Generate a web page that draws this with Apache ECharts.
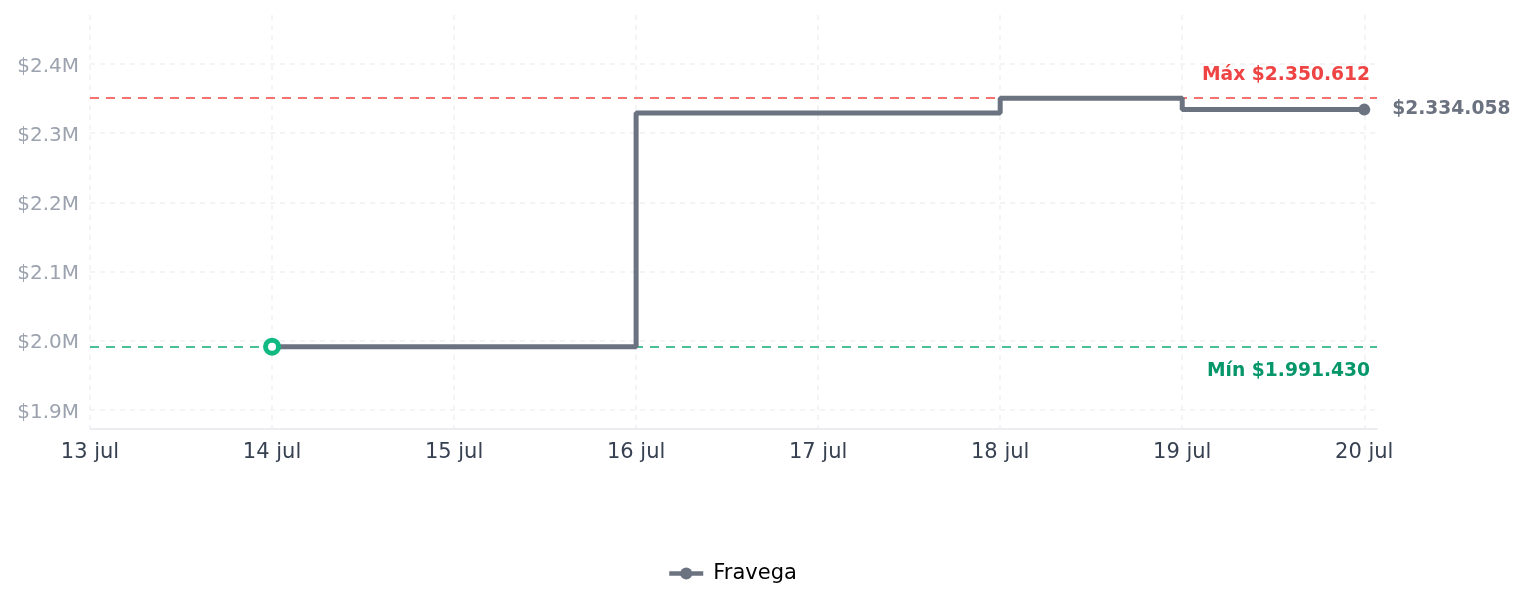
<!DOCTYPE html>
<html>
<head>
  <meta charset="utf-8">
  <title>Fravega</title>
  <script src="https://fastly.jsdelivr.net/npm/echarts@6/dist/echarts.min.js"></script>
</head>
<body style="margin:0">
<div id="chart-container" style="position: relative;width: 1524px;height: 607px; overflow: hidden;"></div>
<script type="text/javascript">
  // day labels, index = position on the x axis
  var dayLabels = ['13 jul', '14 jul', '15 jul', '16 jul', '17 jul', '18 jul', '19 jul', '20 jul'];
  var priceDays = [1, 2, 3, 4, 5, 6, 7];
  var prices = [1991430, 1991430, 2329000, 2329000, 2350612, 2334058, 2334058];
  var seriesName = 'Fravega';
  var maxPrice = 2350612;
  var minPrice = 1991430;

  var gray = '#6b7280';
  var green = '#10b981';

  function money(v) {
    return '$' + String(v).replace(/\B(?=(\d{3})+(?!\d))/g, '.');
  }

  var seriesData = prices.map(function (p, i) {
    var item = { value: [priceDays[i], p], symbolSize: 0 };
    if (i === 0) {
      item.symbolSize = 13;
      item.itemStyle = { color: '#fff', borderColor: green, borderWidth: 5 };
    } else if (i === prices.length - 1) {
      item.symbolSize = 12;
      item.label = {
        show: true,
        position: 'right',
        distance: 22,
        formatter: money(p),
        color: gray,
        fontWeight: 'bold',
        fontSize: 18.7,
        fontFamily: 'DejaVu Sans'
      };
    }
    return item;
  });

  var dom = document.getElementById('chart-container');
  var myChart = echarts.init(dom, null, { renderer: 'canvas' });

  var option = {
    animation: false,
    textStyle: { fontFamily: 'DejaVu Sans' },
    grid: { left: 90, right: 147, top: 15, bottom: 178 },
    legend: {
      bottom: 18,
      left: 662,
      itemWidth: 34,
      itemHeight: 15,
      lineStyle: { width: 4.5 },
      textStyle: { color: '#000', fontSize: 21, fontFamily: 'DejaVu Sans', padding: [0, 0, 0, 5] },
      data: [seriesName]
    },
    xAxis: {
      type: 'value',
      min: 0,
      max: 7.07,
      interval: 1,
      axisLine: { lineStyle: { color: '#e5e7eb', width: 1.5 } },
      axisTick: { show: false },
      axisLabel: {
        color: '#374151',
        fontSize: 21,
        margin: 13,
        showMaxLabel: false,
        formatter: function (v) {
          return Number.isInteger(v) ? dayLabels[v] : '';
        }
      },
      splitLine: {
        show: true,
        showMaxLine: false,
        lineStyle: { color: '#f0f1f3', type: [5, 5], width: 1.5 }
      }
    },
    yAxis: {
      type: 'value',
      min: 1872500,
      max: 2470800,
      axisLine: { show: false },
      axisTick: { show: false },
      axisLabel: {
        color: '#9ca3af',
        fontSize: 20,
        margin: 11,
        showMinLabel: false,
        showMaxLabel: false,
        formatter: function (v) {
          return '{t|$' + (v / 1e6).toFixed(1) + 'M}';
        },
        rich: {
          t: { color: '#9ca3af', fontSize: 20, padding: [5, 0, 0, 0] }
        }
      },
      splitLine: {
        show: true,
        showMinLine: false,
        showMaxLine: false,
        lineStyle: { color: '#f0f1f3', type: [5, 5], width: 1.5 }
      }
    },
    series: [
      {
        name: seriesName,
        type: 'line',
        step: 'end',
        z: 5,
        symbol: 'circle',
        symbolSize: 12,
        showSymbol: true,
        itemStyle: { color: gray },
        lineStyle: { color: gray, width: 5 },
        data: seriesData,
        markLine: {
          silent: true,
          symbol: 'none',
          z: 1,
          data: [
            {
              yAxis: maxPrice,
              lineStyle: { color: '#f87171', type: [9, 7], width: 2 },
              label: {
                show: true,
                position: 'insideEndTop',
                formatter: 'Máx ' + money(maxPrice),
                color: '#ef4444',
                fontWeight: 'bold',
                fontSize: 18.7,
                distance: [7, 14]
              }
            },
            {
              yAxis: minPrice,
              lineStyle: { color: '#4cbf94', type: [9, 7], width: 2 },
              label: {
                show: true,
                position: 'insideEndBottom',
                formatter: 'Mín ' + money(minPrice),
                color: '#059669',
                fontWeight: 'bold',
                fontSize: 18.7,
                distance: [7, 15]
              }
            }
          ]
        }
      }
    ]
  };

  myChart.setOption(option);
  window.addEventListener('resize', myChart.resize);
</script>
</body>
</html>
